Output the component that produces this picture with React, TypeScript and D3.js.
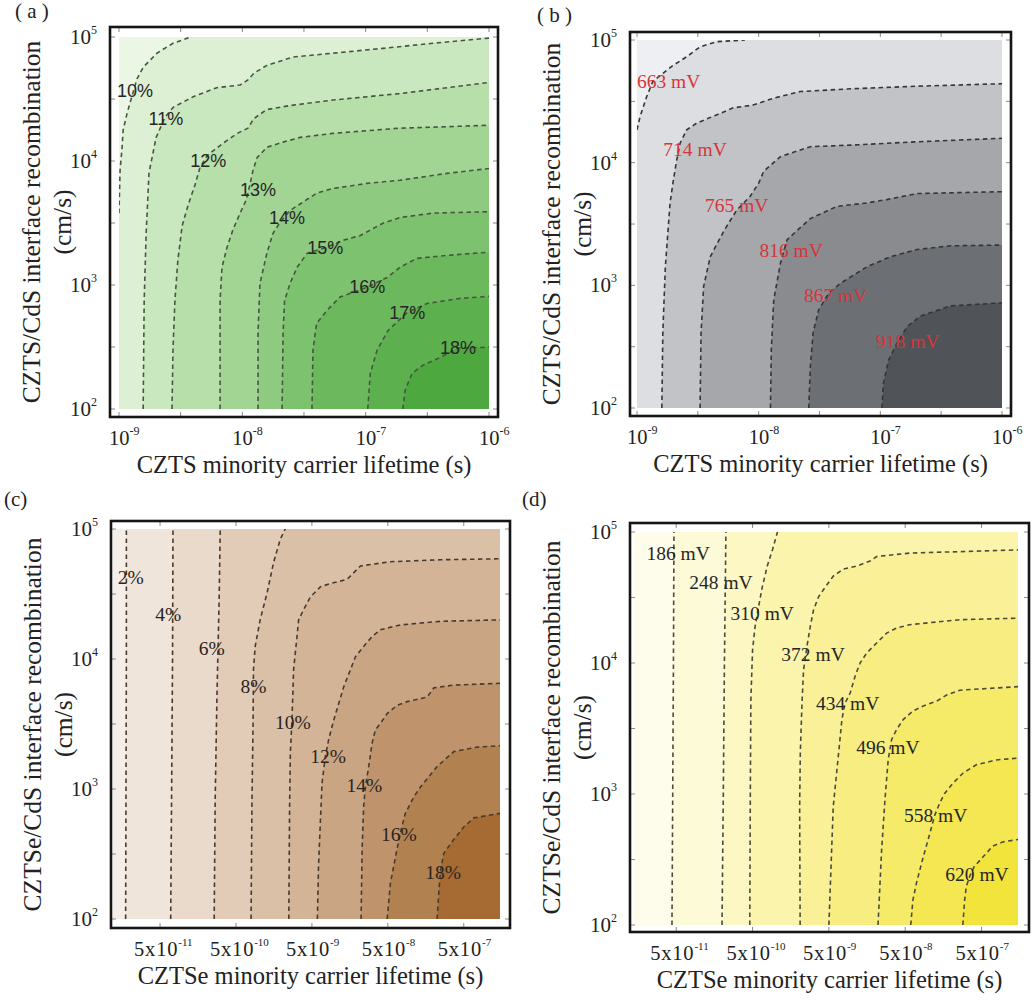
import React from "react";
import * as d3 from "d3";

type Pt = [number, number]; // [lifetime (s), interface recombination (cm/s)]

// ---------- axis ticks ----------
const sDecades = [1e2, 1e3, 1e4, 1e5];
const sHalfDecades = [1e2, 3.16e2, 1e3, 3.16e3, 1e4, 3.16e4, 1e5];
const tauDecadesCZTS = [1e-9, 1e-8, 1e-7, 1e-6];
const tauHalfDecadesCZTS = [1e-9, 3.16e-9, 1e-8, 3.16e-8, 1e-7, 3.16e-7, 1e-6];
const tauTicksCZTSe = [5e-11, 5e-10, 5e-9, 5e-8, 5e-7];

// ---------- (a) CZTS efficiency ----------
const effCZTSLevels = [10, 11, 12, 13, 14, 15, 16, 17, 18];
const effCZTSLines: Pt[][] = [
  [[1e-9, 3.8e3], [1.02e-9, 8.4e3], [1.06e-9, 1.29e4], [1.08e-9, 1.77e4], [1.16e-9, 2.4e4], [1.27e-9, 3.3e4], [1.4e-9, 4.6e4], [1.57e-9, 5.7e4], [2.03e-9, 7.4e4], [2.74e-9, 8.9e4], [3.8e-9, 1e5]],
  [[1.57e-9, 1e2], [1.6e-9, 7.5e2], [1.66e-9, 2.6e3], [1.75e-9, 8e3], [2e-9, 1.55e4], [2.36e-9, 2.25e4], [2.74e-9, 2.7e4], [4e-9, 3.3e4], [6.2e-9, 3.9e4], [9.6e-9, 4.1e4], [1.11e-8, 4.5e4], [1.24e-8, 5.1e4], [1.58e-8, 5.9e4], [2.58e-8, 6.9e4], [5.4e-8, 7.4e4], [1.38e-7, 8.1e4], [3.5e-7, 8.9e4], [1e-6, 9.8e4]],
  [[2.69e-9, 1e2], [2.74e-9, 3e2], [2.84e-9, 7.5e2], [3e-9, 1.58e3], [3.25e-9, 3e3], [3.63e-9, 4.4e3], [4.13e-9, 6.4e3], [4.54e-9, 8.9e3], [5.2e-9, 1.11e4], [6.97e-9, 1.39e4], [9.1e-9, 1.67e4], [1.11e-8, 1.84e4], [1.24e-8, 2.2e4], [1.58e-8, 2.6e4], [2.44e-8, 2.8e4], [5.4e-8, 3.1e4], [1.9e-7, 3.5e4], [1e-6, 4.3e4]],
  [[6.6e-9, 1e2], [6.6e-9, 7.5e2], [6.84e-9, 1.39e3], [7.5e-9, 2e3], [8.4e-9, 2.8e3], [9.6e-9, 3.8e3], [1.07e-8, 4.8e3], [1.15e-8, 6.4e3], [1.22e-8, 8.4e3], [1.32e-8, 1.07e4], [1.58e-8, 1.29e4], [2.14e-8, 1.42e4], [2.94e-8, 1.55e4], [5.4e-8, 1.67e4], [1.9e-7, 1.84e4], [1e-6, 1.94e4]],
  [[1.34e-8, 1e2], [1.34e-8, 4.1e2], [1.39e-8, 1.03e3], [1.58e-8, 1.8e3], [1.77e-8, 2.6e3], [2.02e-8, 3.2e3], [2.44e-8, 4e3], [2.94e-8, 4.5e3], [4e-8, 5.5e3], [5.4e-8, 6e3], [1.03e-7, 6.6e3], [1.9e-7, 7e3], [4.8e-7, 8e3], [1e-6, 8.7e3]],
  [[2.1e-8, 1e2], [2.14e-8, 4.1e2], [2.2e-8, 7.5e2], [2.44e-8, 1.03e3], [2.78e-8, 1.39e3], [3.35e-8, 1.8e3], [4.7e-8, 2e3], [6.6e-8, 2.3e3], [9e-8, 2.5e3], [1.38e-7, 3.15e3], [1.9e-7, 3.5e3], [3.5e-7, 3.8e3], [1e-6, 3.9e3]],
  [[3.67e-8, 1e2], [3.74e-8, 3e2], [4e-8, 4.9e2], [4.9e-8, 6.3e2], [6.2e-8, 8e2], [1.03e-7, 9.6e2], [1.49e-7, 1.15e3], [1.9e-7, 1.39e3], [2.6e-7, 1.64e3], [4.8e-7, 1.74e3], [1e-6, 1.84e3]],
  [[1.04e-7, 1e2], [1.09e-7, 1.94e2], [1.24e-7, 3e2], [1.52e-7, 4.3e2], [2.17e-7, 6e2], [3.15e-7, 7.1e2], [5.8e-7, 7.8e2], [1e-6, 8.1e2]],
  [[2e-7, 1e2], [2.09e-7, 1.42e2], [2.38e-7, 1.94e2], [2.9e-7, 2.25e2], [4e-7, 2.6e2], [5.6e-7, 3.1e2], [1e-6, 3.15e2]],
];
const effCZTSLabelAt: Pt[] = [[1.35e-9, 3.7e4], [2.4e-9, 2.2e4], [5.3e-9, 1.0e4], [1.34e-8, 5.8e3], [2.3e-8, 3.45e3], [4.7e-8, 1.98e3], [1.03e-7, 9.6e2], [2.17e-7, 6e2], [5.6e-7, 3.1e2]];

// ---------- (b) CZTS Voc ----------
const vocCZTSLevels = [663, 714, 765, 816, 867, 918];
const vocCZTSLines: Pt[][] = [
  [[1e-9, 1.85e4], [1.06e-9, 2.37e4], [1.2e-9, 3.45e4], [1.35e-9, 4.6e4], [1.93e-9, 6.1e4], [2.56e-9, 7.3e4], [3.3e-9, 8.8e4], [4.55e-9, 9.7e4], [7.7e-9, 1e5]],
  [[1.6e-9, 1e2], [1.63e-9, 4.1e2], [1.71e-9, 1.42e3], [1.87e-9, 4.7e3], [1.99e-9, 7.2e3], [2.12e-9, 1.05e4], [2.26e-9, 1.44e4], [2.56e-9, 1.85e4], [3.09e-9, 2.1e4], [4.5e-9, 2.45e4], [6.2e-9, 2.8e4], [9e-9, 2.95e4], [1.32e-8, 3.35e4], [2.19e-8, 3.8e4], [5.7e-8, 4e4], [2e-7, 4.2e4], [1e-6, 4.4e4]],
  [[3.3e-9, 1e2], [3.36e-9, 4.1e2], [3.53e-9, 9.8e2], [4e-9, 1.71e3], [5.2e-9, 2.8e3], [6.6e-9, 4.1e3], [8.5e-9, 5.3e3], [1e-8, 6.8e3], [1.1e-8, 8.5e3], [1.51e-8, 1.12e4], [2.66e-8, 1.35e4], [5.7e-8, 1.39e4], [2e-7, 1.48e4], [1e-6, 1.58e4]],
  [[1.25e-8, 1e2], [1.27e-8, 3e2], [1.33e-8, 7.6e2], [1.51e-8, 1.51e3], [1.71e-8, 2.35e3], [2.07e-8, 2.8e3], [2.66e-8, 3.5e3], [4.4e-8, 4.4e3], [7.8e-8, 4.7e3], [1.13e-7, 5e3], [2e-7, 5.6e3], [1e-6, 5.8e3]],
  [[2.58e-8, 1e2], [2.66e-8, 2.17e2], [2.8e-8, 4.1e2], [3.11e-8, 6.3e2], [3.76e-8, 8.6e2], [4.7e-8, 1.04e3], [7.8e-8, 1.42e3], [1.21e-7, 1.71e3], [2e-7, 1.96e3], [3.76e-7, 2.1e3], [1e-6, 2.13e3]],
  [[1.03e-7, 1e2], [1.06e-7, 1.59e2], [1.17e-7, 2.46e2], [1.37e-7, 3.37e2], [1.66e-7, 4.6e2], [2.13e-7, 5.6e2], [3.76e-7, 6.8e2], [1e-6, 7.2e2]],
];
const vocCZTSLabelAt: Pt[] = [[1.82e-9, 4.6e4], [3e-9, 1.29e4], [6.6e-9, 4.5e3], [1.85e-8, 1.92e3], [4.3e-8, 8.2e2], [1.68e-7, 3.5e2]];

// ---------- (c) CZTSe efficiency ----------
const effCZTSeLevels = [2, 4, 6, 8, 10, 12, 14, 16, 18];
const effCZTSeLines: Pt[][] = [
  [[1.76e-11, 1e2], [1.78e-11, 1e3], [1.8e-11, 1e4], [1.8e-11, 1e5]],
  [[6.9e-11, 1e2], [7.1e-11, 1e3], [7.3e-11, 1e4], [7.4e-11, 1e5]],
  [[2.58e-10, 1e2], [2.66e-10, 8.2e2], [2.8e-10, 4.9e3], [3e-10, 2.9e4], [3.1e-10, 1e5]],
  [[7.9e-10, 1e2], [8.1e-10, 7.3e2], [8.4e-10, 3.4e3], [8.5e-10, 8.3e3], [8.95e-10, 1.25e4], [1.04e-9, 2e4], [1.28e-9, 3.2e4], [1.56e-9, 5.5e4], [1.91e-9, 8.3e4], [2.23e-9, 1e5]],
  [[2.48e-9, 1e2], [2.54e-9, 7.3e2], [2.6e-9, 1.9e3], [2.73e-9, 3.4e3], [2.87e-9, 8.3e3], [3.18e-9, 1.49e4], [3.34e-9, 2e4], [3.89e-9, 2.4e4], [4.77e-9, 3e4], [6.5e-9, 3.6e4], [8.7e-9, 3.8e4], [1.45e-8, 4.1e4], [1.77e-8, 4.6e4], [2.18e-8, 5.2e4], [5.4e-8, 5.6e4], [2.47e-7, 5.8e4], [1.5e-6, 5.9e4]],
  [[5.9e-9, 1e2], [6.1e-9, 2.5e2], [6.5e-9, 6.1e2], [6.8e-9, 1.11e3], [7.5e-9, 1.77e3], [8.3e-9, 2.4e3], [9.7e-9, 3.4e3], [1.07e-8, 4.1e3], [1.31e-8, 6.1e3], [1.61e-8, 8.3e3], [1.87e-8, 1.04e4], [2.4e-8, 1.25e4], [3.1e-8, 1.49e4], [4e-8, 1.68e4], [7.3e-8, 1.83e4], [2.47e-7, 1.95e4], [1.5e-6, 2e4]],
  [[2.22e-8, 1e2], [2.29e-8, 3.4e2], [2.4e-8, 7.3e2], [2.53e-8, 1.04e3], [2.8e-8, 1.49e3], [3.1e-8, 2.25e3], [3.43e-8, 2.85e3], [4e-8, 3.2e3], [4.9e-8, 3.8e3], [6.6e-8, 4.4e3], [9e-8, 4.7e3], [1.65e-7, 5.1e3], [2.02e-7, 6e3], [3.7e-7, 6.3e3], [1.5e-6, 6.5e3]],
  [[4.9e-8, 1e2], [5.4e-8, 1.88e2], [6.3e-8, 3e2], [7.3e-8, 4.6e2], [8.5e-8, 6.5e2], [1.1e-7, 8.7e2], [1.35e-7, 1.04e3], [2.23e-7, 1.49e3], [3.7e-7, 1.94e3], [7.5e-7, 2.1e3], [1.5e-6, 2.15e3]],
  [[2.23e-7, 1e2], [2.34e-7, 1.58e2], [2.47e-7, 2.38e2], [2.73e-7, 3.2e2], [3.7e-7, 4.1e2], [5e-7, 5.1e2], [6.8e-7, 6e2], [1.5e-6, 6.5e2]],
];
const effCZTSeLabelAt: Pt[] = [[2.05e-11, 4.2e4], [6.4e-11, 2.2e4], [2.4e-10, 1.2e4], [8.5e-10, 6.1e3], [2.8e-9, 3.26e3], [8.2e-9, 1.77e3], [2.45e-8, 1.06e3], [7e-8, 4.5e2], [2.67e-7, 2.28e2]];

// ---------- (d) CZTSe Voc ----------
const vocCZTSeLevels = [186, 248, 310, 372, 434, 496, 558, 620];
const vocCZTSeLines: Pt[][] = [
  [[4.4e-11, 1e2], [4.5e-11, 1e3], [4.6e-11, 1e4], [4.67e-11, 1e5]],
  [[1.99e-10, 1e2], [2.07e-10, 1e3], [2.14e-10, 1e4], [2.24e-10, 1e5]],
  [[4.6e-10, 1e2], [4.67e-10, 9e2], [4.75e-10, 5.2e3], [5e-10, 1.26e4], [5.4e-10, 1.9e4], [5.9e-10, 2.55e4], [6.7e-10, 3.8e4], [7.8e-10, 5.5e4], [9.1e-10, 7.3e4], [1.06e-9, 1e5]],
  [[2.1e-9, 1e2], [2.07e-9, 8e2], [2.11e-9, 2.05e3], [2.22e-9, 4.9e3], [2.33e-9, 8.9e3], [2.58e-9, 1.34e4], [2.85e-9, 1.9e4], [3.15e-9, 2.55e4], [3.66e-9, 3.2e4], [4.48e-9, 3.8e4], [5.7e-9, 4.6e4], [7.7e-9, 5.2e4], [1.16e-8, 5.5e4], [1.73e-8, 6e4], [2.11e-8, 6.5e4], [5.7e-8, 6.9e4], [1.5e-6, 7.3e4]],
  [[5e-9, 1e2], [5.7e-9, 8e2], [6.7e-9, 2.05e3], [7.4e-9, 3.7e3], [8.1e-9, 4.9e3], [9.5e-9, 5.9e3], [1.1e-8, 7.9e3], [1.28e-8, 1e4], [1.56e-8, 1.19e4], [2.11e-8, 1.42e4], [2.85e-8, 1.69e4], [3.85e-8, 1.85e4], [5.7e-8, 1.96e4], [2.58e-7, 2.14e4], [1.5e-6, 2.2e4]],
  [[2.2e-8, 1e2], [2.45e-8, 3.7e2], [2.71e-8, 9e2], [2.99e-8, 1.82e3], [3.31e-8, 2.6e3], [3.85e-8, 3.1e3], [4.7e-8, 3.7e3], [6.3e-8, 4.3e3], [8.6e-8, 4.7e3], [1.28e-7, 5.1e3], [1.74e-7, 5.7e3], [2.58e-7, 6.2e3], [1.5e-6, 6.6e3]],
  [[5.9e-8, 1e2], [6.3e-8, 1.55e2], [7e-8, 2.08e2], [8.6e-8, 3.3e2], [1.05e-7, 5e2], [1.22e-7, 6.9e2], [1.41e-7, 8.5e2], [1.64e-7, 1.01e3], [2.11e-7, 1.21e3], [2.84e-7, 1.44e3], [4.26e-7, 1.67e3], [7.8e-7, 1.82e3], [1.5e-6, 1.88e3]],
  [[2.84e-7, 1e2], [3e-7, 1.55e2], [3.15e-7, 1.96e2], [3.48e-7, 2.34e2], [4e-7, 2.79e2], [5.2e-7, 3.3e2], [7e-7, 4e2], [9.4e-7, 4.3e2], [1.5e-6, 4.5e2]],
];
const vocCZTSeLabelAt: Pt[] = [[5.3e-11, 6.8e4], [1.93e-10, 4.15e4], [6.7e-10, 2.4e4], [3.1e-9, 1.16e4], [8.8e-9, 4.9e3], [2.96e-8, 2.27e3], [1.25e-7, 6.9e2], [4.35e-7, 2.45e2]];

// ---------- colours (base colour first, then one per level) ----------
const greens = ["#ebf6e5", "#ddf0d4", "#cae8bf", "#b6dfa9", "#a2d594", "#8ecb80", "#7dc26e", "#6cb95d", "#5cb04d", "#4ea840"];
const greys = ["#edeff2", "#dcdee2", "#c1c3c7", "#a5a7ab", "#898b8f", "#6c6f73", "#505357"];
const browns = ["#f5eee8", "#f0e5db", "#eadacb", "#e2cbb7", "#dbc0a8", "#d3b497", "#caa583", "#bf946c", "#b28150", "#a56b33"];
const yellows = ["#fefdeb", "#fdfad8", "#fcf7c3", "#fbf4ad", "#f9f097", "#f8ed80", "#f6ea69", "#f4e752", "#f2e43b"];

const SERIF = "'Liberation Serif', 'Times New Roman', serif";
const SANS = "'Liberation Sans', Arial, sans-serif";

type Box = { x0: number; x1: number; y0: number; y1: number };
type PanelCfg = {
  id: string;
  tag: string;
  tagX: number;
  tagY: number;
  levels: number[];
  lines: Pt[][];
  labelAt: Pt[];
  unit: string;
  xDomain: [number, number];
  xTicks: number[];
  xTickMarks: number[];
  mantissa: boolean;
  frame: Box;
  data: Box;
  fills: string[];
  lineColor: string;
  labelColor: string;
  labelFont: string;
  labelSize: number;
  xTitle: string;
  yTitle: string;
};

const panels: PanelCfg[] = [
  {
    id: "a", tag: "( a )", tagX: 15, tagY: 18,
    levels: effCZTSLevels, lines: effCZTSLines, labelAt: effCZTSLabelAt, unit: "%",
    xDomain: [1e-9, 1e-6], xTicks: tauDecadesCZTS, xTickMarks: tauHalfDecadesCZTS, mantissa: false,
    frame: { x0: 110, x1: 498, y0: 27, y1: 417 }, data: { x0: 119, x1: 489, y0: 37, y1: 409 },
    fills: greens, lineColor: "#45573f", labelColor: "#262626", labelFont: SANS, labelSize: 18,
    xTitle: "CZTS minority carrier lifetime (s)", yTitle: "CZTS/CdS interface recombination",
  },
  {
    id: "b", tag: "( b )", tagX: 537, tagY: 22,
    levels: vocCZTSLevels, lines: vocCZTSLines, labelAt: vocCZTSLabelAt, unit: " mV",
    xDomain: [1e-9, 1e-6], xTicks: tauDecadesCZTS, xTickMarks: tauHalfDecadesCZTS, mantissa: false,
    frame: { x0: 630, x1: 1011, y0: 32, y1: 416 }, data: { x0: 637, x1: 1002, y0: 40, y1: 408 },
    fills: greys, lineColor: "#333639", labelColor: "#d8343a", labelFont: SERIF, labelSize: 19.5,
    xTitle: "CZTS minority carrier lifetime (s)", yTitle: "CZTS/CdS interface recombination",
  },
  {
    id: "c", tag: "(c)", tagX: 4, tagY: 506,
    levels: effCZTSeLevels, lines: effCZTSeLines, labelAt: effCZTSeLabelAt, unit: "%",
    xDomain: [1.2e-11, 1.5e-6], xTicks: tauTicksCZTSe, xTickMarks: tauTicksCZTSe, mantissa: true,
    frame: { x0: 111, x1: 510, y0: 521, y1: 928 }, data: { x0: 113, x1: 500, y0: 529, y1: 919 },
    fills: browns, lineColor: "#4a3a2e", labelColor: "#2a2420", labelFont: SERIF, labelSize: 19.5,
    xTitle: "CZTSe minority carrier lifetime (s)", yTitle: "CZTSe/CdS interface recombination",
  },
  {
    id: "d", tag: "(d)", tagX: 522, tagY: 506,
    levels: vocCZTSeLevels, lines: vocCZTSeLines, labelAt: vocCZTSeLabelAt, unit: " mV",
    xDomain: [1.4e-11, 1.5e-6], xTicks: tauTicksCZTSe, xTickMarks: tauTicksCZTSe, mantissa: true,
    frame: { x0: 630, x1: 1029, y0: 523, y1: 932 }, data: { x0: 634, x1: 1018, y0: 532, y1: 925 },
    fills: yellows, lineColor: "#4d4b3a", labelColor: "#262626", labelFont: SERIF, labelSize: 19.5,
    xTitle: "CZTSe minority carrier lifetime (s)", yTitle: "CZTSe/CdS interface recombination",
  },
];

function Panel({ p }: { p: PanelCfg }) {
  const { frame, data } = p;
  const x = d3.scaleLog().domain(p.xDomain).range([data.x0, data.x1]);
  const y = d3.scaleLog().domain([1e2, 1e5]).range([data.y1, data.y0]);
  const line = d3.line<Pt>().x((d) => x(d[0])).y((d) => y(d[1]));

  // region at or above a level sits to the lower right of its contour
  const region = (pts: Pt[]) => {
    const first = pts[0];
    const last = pts[pts.length - 1];
    const out: Pt[] = pts.slice();
    if (Math.abs(y(last[1]) - data.y0) < 1) out.push([p.xDomain[1], 1e5]);
    out.push([p.xDomain[1], 1e2]);
    if (Math.abs(x(first[0]) - data.x0) < 1) out.push([p.xDomain[0], 1e2]);
    return line(out) + "Z";
  };

  const clipId = `clip-${p.id}`;
  const midY = (frame.y0 + frame.y1) / 2;
  const tick = 5;

  return (
    <g>
      <defs>
        <clipPath id={clipId}>
          <rect x={data.x0} y={data.y0} width={data.x1 - data.x0} height={data.y1 - data.y0} />
        </clipPath>
      </defs>

      <g clipPath={`url(#${clipId})`}>
        <rect x={data.x0} y={data.y0} width={data.x1 - data.x0} height={data.y1 - data.y0} fill={p.fills[0]} />
        {p.lines.map((pts, i) => (
          <path key={`f${i}`} d={region(pts)} fill={p.fills[i + 1]} stroke="none" />
        ))}
        {p.lines.map((pts, i) => (
          <path key={`l${i}`} d={line(pts) || ""} fill="none" stroke={p.lineColor}
            strokeWidth={1.6} strokeDasharray="4.5 3.5" />
        ))}
      </g>

      {p.labelAt.map((d, i) => (
        <text key={`t${i}`} x={x(d[0])} y={y(d[1])} textAnchor="middle" dominantBaseline="central"
          fontFamily={p.labelFont} fontSize={p.labelSize} fill={p.labelColor}>
          {`${p.levels[i]}${p.unit}`}
        </text>
      ))}

      {/* ticks on the frame */}
      {sHalfDecades.map((v, i) => (
        <g key={`yt${i}`} stroke="#8a8a8a" strokeWidth={1}>
          <line x1={frame.x0} x2={frame.x0 + tick} y1={y(v)} y2={y(v)} />
          <line x1={frame.x1} x2={frame.x1 - tick} y1={y(v)} y2={y(v)} />
        </g>
      ))}
      {p.xTickMarks.map((v, i) => (
        <g key={`xt${i}`} stroke="#8a8a8a" strokeWidth={1}>
          <line x1={x(v)} x2={x(v)} y1={frame.y1} y2={frame.y1 - tick} />
          <line x1={x(v)} x2={x(v)} y1={frame.y0} y2={frame.y0 + tick} />
        </g>
      ))}

      <rect x={frame.x0} y={frame.y0} width={frame.x1 - frame.x0} height={frame.y1 - frame.y0}
        fill="none" stroke="#151515" strokeWidth={2.6} />

      {/* y tick labels */}
      {sDecades.map((v, i) => (
        <text key={`yl${i}`} x={frame.x0 - 13} y={y(v) + 7} textAnchor="end"
          fontFamily={SERIF} fontSize={21} fill="#222">
          10<tspan dy={-10} fontSize={12}>{Math.round(Math.log10(v))}</tspan>
        </text>
      ))}

      {/* x tick labels */}
      {p.xTicks.map((v, i) => {
        const e = Math.floor(Math.log10(v) + 1e-9);
        return p.mantissa ? (
          <text key={`xl${i}`} x={x(v) - 26} y={frame.y1 + 28} fontFamily={SERIF}
            fontSize={20.5} fill="#222" letterSpacing={0.8}>
            5x10<tspan dy={-10} fontSize={11} letterSpacing={0}>{e}</tspan>
          </text>
        ) : (
          <text key={`xl${i}`} x={x(v) - 10} y={frame.y1 + 28} fontFamily={SERIF}
            fontSize={20.5} fill="#222">
            10<tspan dy={-10} fontSize={12}>{e}</tspan>
          </text>
        );
      })}

      {/* axis titles */}
      <text x={(frame.x0 + frame.x1) / 2} y={frame.y1 + 56} textAnchor="middle"
        fontFamily={SERIF} fontSize={24.5} fill="#222">{p.xTitle}</text>
      <text transform={`translate(${frame.x0 - 79},${midY}) rotate(-90)`} textAnchor="middle"
        dominantBaseline="central" fontFamily={SERIF} fontSize={25.5} fill="#222">{p.yTitle}</text>
      <text transform={`translate(${frame.x0 - 48},${midY}) rotate(-90)`} textAnchor="middle"
        dominantBaseline="central" fontFamily={SERIF} fontSize={25.5} fill="#222">(cm/s)</text>

      <text x={p.tagX} y={p.tagY} fontFamily={SERIF} fontSize={21} fill="#222">{p.tag}</text>
    </g>
  );
}

export default function App() {
  return (
    <svg width={1034} height={1001} viewBox="0 0 1034 1001"
      style={{ position: "absolute", left: 0, top: 0, background: "#fff" }}>
      {panels.map((p) => (
        <Panel key={p.id} p={p} />
      ))}
    </svg>
  );
}
